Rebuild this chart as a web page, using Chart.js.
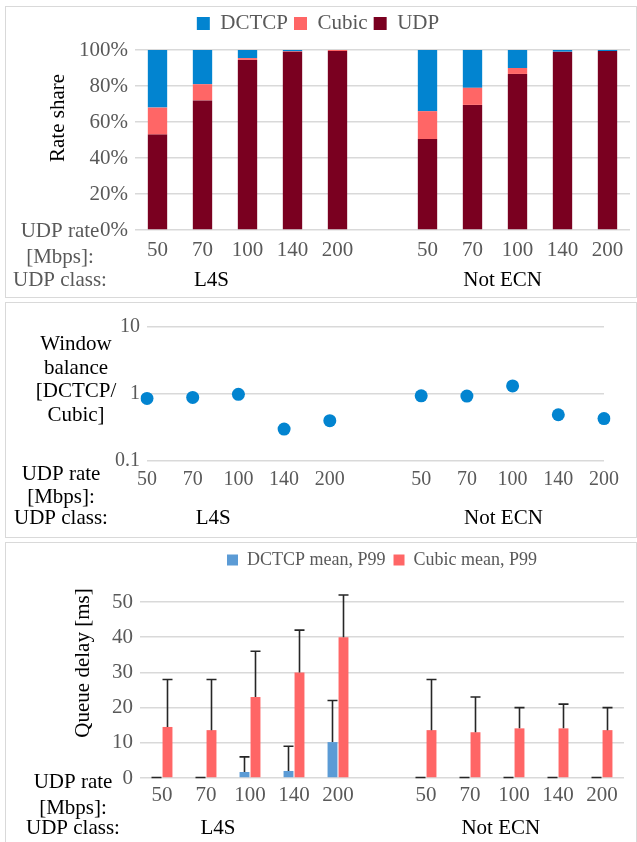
<!DOCTYPE html>
<html>
<head>
<meta charset="utf-8">
<script src="https://cdn.jsdelivr.net/npm/chart.js@4/dist/chart.umd.min.js"></script>
<style>
  body { margin: 0; background: #fff; width: 637px; height: 842px; overflow: hidden; position: relative; }
  .panel { position: absolute; left: 5px; width: 632px; box-sizing: border-box; border: 1px solid #d9d9d9; overflow: hidden; }
  .panel canvas { display: block; }
</style>
</head>
<body>
<div class="panel" style="top:6px;height:292px;"><canvas id="shareChart" width="630" height="290"></canvas></div>
<div class="panel" style="top:302px;height:236px;"><canvas id="balanceChart" width="630" height="234"></canvas></div>
<div class="panel" style="top:542px;height:305px;"><canvas id="delayChart" width="630" height="303"></canvas></div>
<script>
// categories: 5 rates per UDP class, with an empty slot between the two groups
const rateLabels = ['50', '70', '100', '140', '200', '', '50', '70', '100', '140', '200'];

// rate share [%]
const udpShare   = [53, 72, 94.5, 99, 99.4, null, 50.5, 69.5, 86.7, 98.9, 99.4];
const cubicShare = [15, 9, 1, 0.3, 0.6, null, 15.5, 9.5, 3.3, 0.1, 0];
const dctcpShare = [32, 19, 4.5, 0.7, 0, null, 34, 21, 10, 1, 0.6];

// window balance DCTCP/Cubic
const windowBalance = [0.86, 0.89, 0.99, 0.30, 0.40, null, 0.94, 0.93, 1.32, 0.49, 0.43];

// queue delay [ms]
const dctcpMean = [0, 0, 1.7, 2.0, 10.2, null, 0, 0, 0, 0, 0];
const dctcpP99  = [0.15, 0.15, 6, 9, 22, null, 0.15, 0.15, 0.15, 0.15, 0.15];
const cubicMean = [14.5, 13.6, 23, 30, 40, null, 13.6, 13, 14.1, 14.1, 13.6];
const cubicP99  = [28, 28, 36, 42, 52, null, 28, 23, 20, 21, 20];

const FONT = "'Liberation Serif', 'Times New Roman', serif";
const GREY = '#595959';
const GRID = '#d9d9d9';

// draws the extra labels (row captions, group names, horizontal axis titles)
const extraText = {
    id: 'extraText',
    afterDraw(chart, args, opts) {
        const ctx = chart.ctx;
        const xs = chart.scales.x;
        ctx.save();
        (opts.items || []).forEach(t => {
            ctx.font = (t.size || 21) + 'px ' + FONT;
            ctx.fillStyle = t.color || '#000';
            ctx.textAlign = 'center';
            ctx.textBaseline = 'middle';
            const px = t.cat !== undefined ? xs.getPixelForValue(t.cat) : t.x;
            if (t.rotate) {
                ctx.save();
                ctx.translate(px, t.y);
                ctx.rotate(-Math.PI / 2);
                ctx.fillText(t.text, 0, 0);
                ctx.restore();
            } else {
                ctx.fillText(t.text, px, t.y);
            }
        });
        ctx.restore();
    }
};

// P99 whiskers for the delay chart
const errorBars = {
    id: 'errorBars',
    afterDatasetsDraw(chart, args, opts) {
        const ctx = chart.ctx;
        const ys = chart.scales.y;
        ctx.save();
        ctx.strokeStyle = '#262626';
        ctx.lineWidth = 1.6;
        opts.tops.forEach((tops, di) => {
            const meta = chart.getDatasetMeta(di);
            meta.data.forEach((bar, i) => {
                if (tops[i] == null) return;
                const yTop = ys.getPixelForValue(tops[i]);
                ctx.beginPath();
                ctx.moveTo(bar.x, bar.y);
                ctx.lineTo(bar.x, yTop);
                ctx.moveTo(bar.x - 5, yTop);
                ctx.lineTo(bar.x + 5, yTop);
                ctx.stroke();
            });
        });
        ctx.restore();
    }
};

// empty title used as a gap between legend and plot
const spacer = h => ({ display: true, text: '', weight: 500, padding: 0, font: { size: h, lineHeight: 1 } });

// ---------- chart 1: rate share ----------
new Chart(document.getElementById('shareChart'), {
    type: 'bar',
    data: {
        labels: rateLabels,
        datasets: [
            { label: 'UDP', data: udpShare, backgroundColor: '#7a0020' },
            { label: 'Cubic', data: cubicShare, backgroundColor: '#ff6666' },
            { label: 'DCTCP', data: dctcpShare, backgroundColor: '#0284d0' }
        ]
    },
    options: {
        responsive: false,
        animation: false,
        layout: { padding: { left: 0, right: 6, top: 0, bottom: 0 } },
        datasets: { bar: { barPercentage: 0.43, categoryPercentage: 1 } },
        scales: {
            x: {
                stacked: true,
                grid: { display: false, drawTicks: false },
                border: { display: false },
                ticks: { font: { family: FONT, size: 21 }, color: GREY, padding: 8, autoSkip: false, maxRotation: 0 },
                afterFit(s) { s.height = 67; }
            },
            y: {
                stacked: true,
                min: 0, max: 100,
                grid: { color: GRID, lineWidth: 1.5, drawTicks: false },
                border: { display: false },
                ticks: { stepSize: 20, font: { family: FONT, size: 21 }, color: GREY, padding: 7, callback: v => v + '%' },
                afterFit(s) { s.width = 129; }
            }
        },
        plugins: {
            legend: {
                reverse: true,
                labels: { font: { family: FONT, size: 21 }, color: GREY, boxWidth: 13, boxHeight: 13, padding: 6 }
            },
            title: spacer(6),
            tooltip: { enabled: false },
            extraText: {
                items: [
                    { text: 'Rate share', x: 52, y: 111, rotate: true },
                    { text: 'UDP rate', x: 54, y: 224, color: GREY },
                    { text: '[Mbps]:', x: 54, y: 250, color: GREY },
                    { text: 'UDP class:', x: 54, y: 273, color: GREY },
                    { text: 'L4S', cat: 1.2, y: 273 },
                    { text: 'Not ECN', cat: 7.67, y: 273 }
                ]
            }
        }
    },
    plugins: [extraText]
});

// ---------- chart 2: window balance ----------
new Chart(document.getElementById('balanceChart'), {
    type: 'line',
    data: {
        labels: rateLabels,
        datasets: [
            { label: 'Window balance', data: windowBalance, showLine: false,
              pointRadius: 6.5, pointBackgroundColor: '#0284d0', pointBorderWidth: 0 }
        ]
    },
    options: {
        responsive: false,
        animation: false,
        layout: { padding: { left: 0, right: 32, top: 24, bottom: 0 } },
        scales: {
            x: {
                offset: false,
                grid: { display: false, drawTicks: false },
                border: { display: false },
                ticks: { font: { family: FONT, size: 20 }, color: GREY, padding: 7, autoSkip: false, maxRotation: 0 },
                afterFit(s) { s.height = 76; }
            },
            y: {
                type: 'logarithmic',
                min: 0.1, max: 10,
                grid: { color: GRID, lineWidth: 1.5, drawTicks: false },
                border: { display: false },
                ticks: { font: { family: FONT, size: 20 }, color: GREY, padding: 7, callback: v => String(v) },
                afterBuildTicks(s) { s.ticks = [0.1, 1, 10].map(v => ({ value: v })); },
                afterFit(s) { s.width = 141; }
            }
        },
        plugins: {
            legend: { display: false },
            tooltip: { enabled: false },
            extraText: {
                items: [
                    { text: 'Window', x: 70, y: 41 },
                    { text: 'balance', x: 70, y: 65 },
                    { text: '[DCTCP/', x: 70, y: 88 },
                    { text: 'Cubic]', x: 70, y: 112 },
                    { text: 'UDP rate', x: 55, y: 171 },
                    { text: '[Mbps]:', x: 55, y: 194 },
                    { text: 'UDP class:', x: 55, y: 215 },
                    { text: 'L4S', cat: 1.45, y: 215 },
                    { text: 'Not ECN', cat: 7.8, y: 215 }
                ]
            }
        }
    },
    plugins: [extraText]
});

// ---------- chart 3: queue delay ----------
new Chart(document.getElementById('delayChart'), {
    type: 'bar',
    data: {
        labels: rateLabels,
        datasets: [
            { label: 'DCTCP mean, P99', data: dctcpMean, backgroundColor: '#5b9bd5' },
            { label: 'Cubic mean, P99', data: cubicMean, backgroundColor: '#ff6666' }
        ]
    },
    options: {
        responsive: false,
        animation: false,
        layout: { padding: { left: 0, right: 12, top: 0, bottom: 0 } },
        datasets: { bar: { barPercentage: 0.9, categoryPercentage: 0.5 } },
        scales: {
            x: {
                grid: { display: false, drawTicks: false },
                border: { display: false },
                ticks: { font: { family: FONT, size: 21 }, color: GREY, padding: 5, autoSkip: false, maxRotation: 0 },
                afterFit(s) { s.height = 68; }
            },
            y: {
                min: 0, max: 50,
                grid: { color: GRID, lineWidth: 1.5, drawTicks: false },
                border: { display: false },
                ticks: { stepSize: 10, font: { family: FONT, size: 21 }, color: GREY, padding: 7 },
                afterFit(s) { s.width = 134; }
            }
        },
        plugins: {
            legend: {
                fullSize: false,
                labels: { font: { family: FONT, size: 18 }, color: GREY, boxWidth: 11, boxHeight: 11, padding: 8 }
            },
            title: spacer(23),
            tooltip: { enabled: false },
            errorBars: { tops: [dctcpP99, cubicP99] },
            extraText: {
                items: [
                    { text: 'Queue delay [ms]', x: 77, y: 120, rotate: true },
                    { text: 'UDP rate', x: 67, y: 239 },
                    { text: '[Mbps]:', x: 67, y: 265 },
                    { text: 'UDP class:', x: 67, y: 285 },
                    { text: 'L4S', cat: 1.27, y: 285 },
                    { text: 'Not ECN', cat: 7.7, y: 285 }
                ]
            }
        }
    },
    plugins: [extraText, errorBars]
});
</script>
</body>
</html>
